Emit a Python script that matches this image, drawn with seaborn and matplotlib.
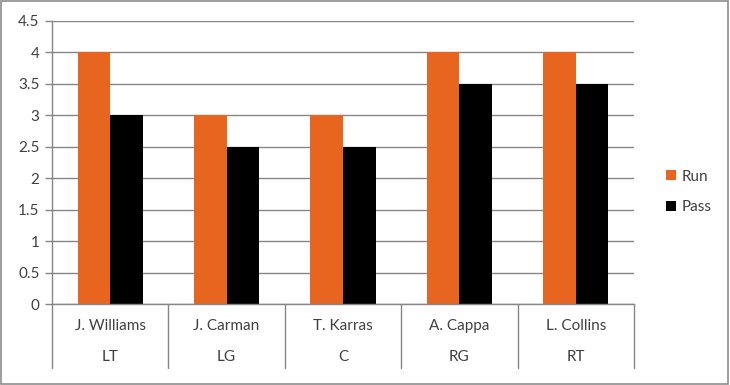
import matplotlib
matplotlib.use("Agg")
import matplotlib.pyplot as plt
import seaborn as sns
import pandas as pd
from matplotlib.patches import Rectangle, Patch

players = ["J. Williams", "J. Carman", "T. Karras", "A. Cappa", "L. Collins"]
positions = ["LT", "LG", "C", "RG", "RT"]
run_vals = [4, 3, 3, 4, 4]
pass_vals = [3, 2.5, 2.5, 3.5, 3.5]
series = ["Run", "Pass"]
yticks = [0, 0.5, 1, 1.5, 2, 2.5, 3, 3.5, 4, 4.5]

df = pd.DataFrame({
    "player": players * 2,
    "series": ["Run"] * len(players) + ["Pass"] * len(players),
    "value": run_vals + pass_vals,
})

sns.set_style("white")
plt.rcParams["font.family"] = ["Lato", "DejaVu Sans"]
txt = "#404040"
grid_c = "#868686"
colors = {"Run": "#E8651F", "Pass": "#000000"}
fs = 11

fig = plt.figure(figsize=(7.3, 3.85), dpi=100)
ax = fig.add_axes([52 / 730, 1 - 304 / 385, 582 / 730, 283 / 385])
sns.barplot(data=df, x="player", y="value", hue="series", order=players,
            hue_order=series, palette=colors, width=0.56, ax=ax,
            saturation=1, legend=False, edgecolor="none")

ax.set_xlim(-0.5, len(players) - 0.5)
ax.set_ylim(0, 4.5)
ax.set_yticks(yticks)
ax.set_yticklabels([f"{v:g}" for v in yticks], fontsize=fs, color=txt)
ax.yaxis.grid(True, color=grid_c, linewidth=1)
ax.set_axisbelow(True)
ax.tick_params(axis="y", length=5, width=1, color=grid_c, pad=4, left=True)
ax.set_xticks([])
ax.set_xlabel("")
ax.set_ylabel("")
for s in ["top", "right"]:
    ax.spines[s].set_visible(False)
for s in ["left", "bottom"]:
    ax.spines[s].set_color(grid_c)
    ax.spines[s].set_linewidth(1)

tr = ax.get_xaxis_transform()
for i in range(len(players) + 1):
    ax.plot([i - 0.5, i - 0.5], [0, -64 / 283], transform=tr, color=grid_c,
            linewidth=1, clip_on=False)
for i, (p, pos) in enumerate(zip(players, positions)):
    ax.text(i, -22 / 283, p, transform=tr, ha="center", va="center",
            fontsize=fs, color=txt)
    ax.text(i, -53 / 283, pos, transform=tr, ha="center", va="center",
            fontsize=fs, color=txt)

handles = [Patch(facecolor=colors[s], edgecolor="none", label=s) for s in series]
fig.legend(handles=handles, loc="center left",
           bbox_to_anchor=(658 / 730, 1 - 192 / 385), frameon=False,
           fontsize=fs, labelcolor=txt, handlelength=0.65, handleheight=0.65,
           handletextpad=0.4, labelspacing=1.1, borderpad=0)

fig.patches.append(Rectangle((0.002, 0.003), 0.995, 0.994, transform=fig.transFigure,
                             fill=False, edgecolor="#8c8c8c", linewidth=1.2))

fig.savefig("out.png", dpi=100)
